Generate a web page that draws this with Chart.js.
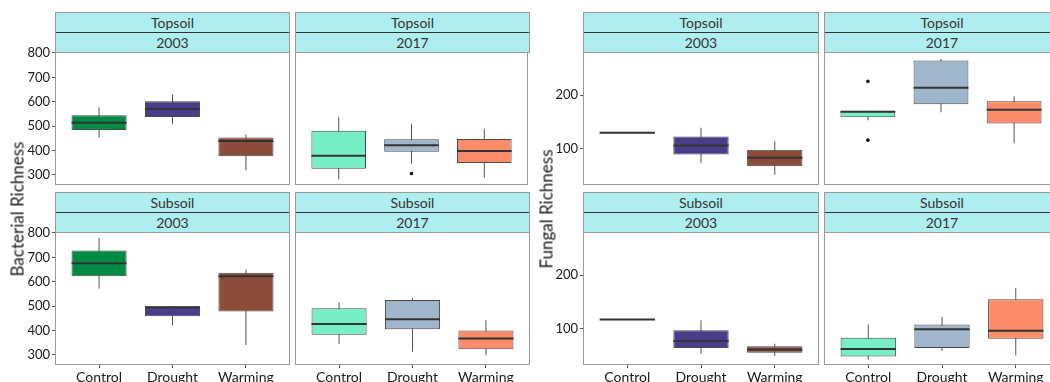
<!DOCTYPE html>
<html>
<head>
<meta charset="utf-8">
<title>Bacterial and fungal richness</title>
<script src="https://cdn.jsdelivr.net/npm/chart.js@4.4.1/dist/chart.umd.min.js"></script>
<style>
  html, body { margin: 0; padding: 0; background: #fff; overflow: hidden; }
  body { width: 1050px; height: 382px; position: relative; font-family: Lato, 'Open Sans', sans-serif; }
  #root { position: absolute; left: 0; top: 0; width: 1080px; height: 400px; }
  canvas.panel { position: absolute; }
  .strip { position: absolute; box-sizing: border-box; height: 41px; border: 1px solid #9a9a9a; background: #afeeee; }
  .strip div { height: 19px; line-height: 19px; text-align: center; font-size: 14px; color: #333; }
  .strip div:first-child { border-bottom: 1px solid #333; }
  .axis-title { position: absolute; font-size: 17px; color: #1a1a1a; white-space: nowrap;
    transform: translate(-50%, -50%) rotate(-90deg); }
</style>
</head>
<body>
<div id="root"></div>
<script>
(function () {
  // treatments on the x axis
  const categories = ['Control', 'Drought', 'Warming'];

  // y ticks for each richness measure
  const bacterialTicks = [300, 400, 500, 600, 700, 800];
  const fungalTicks = [100, 200];
  const bacterialRange = [259, 804];
  const fungalRange = [32, 281];

  // box stats per treatment: [lower whisker, q1, median, q3, upper whisker]
  const bacterialTopsoil2003 = [
    [453, 484, 514, 545, 578],
    [508, 538, 570, 602, 630],
    [319, 377, 439, 454, 466],
  ];
  const bacterialTopsoil2017 = [
    [282, 326, 379, 481, 537],
    [346, 395, 422, 446, 510],
    [289, 349, 398, 447, 489],
  ];
  const bacterialSubsoil2003 = [
    [572, 623, 676, 728, 780],
    [422, 459, 496, 500, 500],
    [341, 478, 623, 637, 650],
  ];
  const bacterialSubsoil2017 = [
    [345, 383, 427, 492, 516],
    [314, 405, 446, 525, 534],
    [300, 324, 368, 400, 442],
  ];
  const fungalTopsoil2003 = [
    [130, 130, 130, 130, 130],
    [73, 89, 106, 123, 139],
    [51, 67, 83, 98, 114],
  ];
  const fungalTopsoil2017 = [
    [153, 159, 169, 171, 171],
    [168, 183, 214, 265, 268],
    [110, 147, 173, 189, 198],
  ];
  const fungalSubsoil2003 = [
    [117, 117, 117, 117, 117],
    [53, 64, 77, 97, 116],
    [49, 55, 61, 67, 72],
  ];
  const fungalSubsoil2017 = [
    [42, 48, 62, 83, 108],
    [58, 64, 99, 108, 122],
    [50, 81, 96, 155, 176],
  ];

  // outliers per treatment
  const bacterialTopsoil2017Outliers = [[], [306], []];
  const fungalTopsoil2017Outliers = [[226, 116], [], []];
  const noOutliers = [[], [], []];

  const fills2003 = ['#008B45', '#483D8B', '#8B4C39'];
  const fills2017 = ['#76EEC6', '#9FB6CD', '#FF8C69'];

  // canvas margins around each plot area
  const ML = 40;
  const MR = 2;
  const MT = 8;
  const MB = 22;

  const cols = { bl: [55, 235], br: [295, 235], fl: [583, 236], fr: [824, 236] };
  const rows = { top: [52, 133], bottom: [232, 133] };

  const panels = [
    { col: 'bl', row: 'top', soil: 'Topsoil', year: '2003', stats: bacterialTopsoil2003, outliers: noOutliers, range: bacterialRange, ticks: bacterialTicks, fills: fills2003, yAxis: true, xAxis: false },
    { col: 'br', row: 'top', soil: 'Topsoil', year: '2017', stats: bacterialTopsoil2017, outliers: bacterialTopsoil2017Outliers, range: bacterialRange, ticks: bacterialTicks, fills: fills2017, yAxis: false, xAxis: false },
    { col: 'bl', row: 'bottom', soil: 'Subsoil', year: '2003', stats: bacterialSubsoil2003, outliers: noOutliers, range: bacterialRange, ticks: bacterialTicks, fills: fills2003, yAxis: true, xAxis: true },
    { col: 'br', row: 'bottom', soil: 'Subsoil', year: '2017', stats: bacterialSubsoil2017, outliers: noOutliers, range: bacterialRange, ticks: bacterialTicks, fills: fills2017, yAxis: false, xAxis: true },
    { col: 'fl', row: 'top', soil: 'Topsoil', year: '2003', stats: fungalTopsoil2003, outliers: noOutliers, range: fungalRange, ticks: fungalTicks, fills: fills2003, yAxis: true, xAxis: false },
    { col: 'fr', row: 'top', soil: 'Topsoil', year: '2017', stats: fungalTopsoil2017, outliers: fungalTopsoil2017Outliers, range: fungalRange, ticks: fungalTicks, fills: fills2017, yAxis: false, xAxis: false },
    { col: 'fl', row: 'bottom', soil: 'Subsoil', year: '2003', stats: fungalSubsoil2003, outliers: noOutliers, range: fungalRange, ticks: fungalTicks, fills: fills2003, yAxis: true, xAxis: true },
    { col: 'fr', row: 'bottom', soil: 'Subsoil', year: '2017', stats: fungalSubsoil2017, outliers: noOutliers, range: fungalRange, ticks: fungalTicks, fills: fills2017, yAxis: false, xAxis: true },
  ];

  const root = document.getElementById('root');

  // grey frame around the plot area
  const framePlugin = {
    id: 'panelFrame',
    afterDraw(chart) {
      const a = chart.chartArea;
      const ctx = chart.ctx;
      ctx.save();
      ctx.strokeStyle = '#9a9a9a';
      ctx.lineWidth = 1;
      ctx.strokeRect(a.left + 0.5, a.top + 0.5, a.right - a.left - 1, a.bottom - a.top - 1);
      ctx.restore();
    },
  };

  // median line across each box
  const medianPlugin = {
    id: 'boxMedians',
    afterDatasetsDraw(chart) {
      const yScale = chart.scales.y;
      const ctx = chart.ctx;
      chart.data.datasets.forEach((ds, di) => {
        if (!ds.medians) {
          return;
        }
        chart.getDatasetMeta(di).data.forEach((bar, i) => {
          const y = yScale.getPixelForValue(ds.medians[i]);
          ctx.save();
          ctx.strokeStyle = '#333';
          ctx.lineWidth = 2;
          ctx.beginPath();
          ctx.moveTo(bar.x - bar.width / 2, y);
          ctx.lineTo(bar.x + bar.width / 2, y);
          ctx.stroke();
          ctx.restore();
        });
      });
    },
  };

  function zeroPadding(scale) {
    scale.paddingTop = 0;
    scale.paddingBottom = 0;
    scale.paddingLeft = 0;
    scale.paddingRight = 0;
  }

  function addStrip(panel) {
    const [x, w] = cols[panel.col];
    const [y] = rows[panel.row];
    const strip = document.createElement('div');
    strip.className = 'strip';
    strip.style.left = `${x}px`;
    strip.style.width = `${w}px`;
    strip.style.top = `${y - 40}px`;
    strip.innerHTML = `<div>${panel.soil}</div><div>${panel.year}</div>`;
    root.appendChild(strip);
  }

  function addPanel(panel) {
    const [x, w] = cols[panel.col];
    const [y, h] = rows[panel.row];
    const canvas = document.createElement('canvas');
    canvas.className = 'panel';
    canvas.width = w + ML + MR;
    canvas.height = h + MT + MB;
    canvas.style.left = `${x - ML}px`;
    canvas.style.top = `${y - MT}px`;
    root.appendChild(canvas);

    const positions = categories.map((_, i) => i + 1);
    const outlierPoints = [];
    panel.outliers.forEach((values, i) => {
      values.forEach((v) => outlierPoints.push({ x: positions[i], y: v }));
    });

    new Chart(canvas, {
      type: 'bar',
      data: {
        datasets: [
          {
            data: panel.stats.map((s, i) => ({ x: positions[i], y: [s[0], s[4]] })),
            backgroundColor: '#555',
            borderWidth: 0,
            grouped: false,
            maxBarThickness: 1,
            order: 3,
          },
          {
            data: panel.stats.map((s, i) => ({ x: positions[i], y: [s[1], s[3]] })),
            medians: panel.stats.map((s) => s[2]),
            backgroundColor: panel.fills,
            borderColor: '#4a4a4a',
            borderWidth: 1,
            borderSkipped: false,
            grouped: false,
            barPercentage: 0.75,
            categoryPercentage: 1,
            order: 2,
          },
          {
            type: 'scatter',
            data: outlierPoints,
            pointRadius: 1.8,
            pointBackgroundColor: '#111',
            pointBorderWidth: 0,
            order: 1,
          },
        ],
      },
      options: {
        responsive: false,
        animation: false,
        devicePixelRatio: 1,
        layout: {
          padding: {
            top: MT,
            right: MR,
            left: panel.yAxis ? 0 : ML,
            bottom: panel.xAxis ? 0 : MB,
          },
        },
        plugins: { legend: { display: false }, tooltip: { enabled: false } },
        scales: {
          x: {
            type: 'linear',
            display: panel.xAxis,
            min: 0.4,
            max: 3.6,
            offset: false,
            afterBuildTicks: (scale) => {
              scale.ticks = positions.map((v) => ({ value: v }));
            },
            afterFit: (scale) => {
              if (panel.xAxis) {
                scale.height = MB;
              }
              zeroPadding(scale);
            },
            grid: { offset: false, drawOnChartArea: false, drawTicks: true, tickLength: 3, tickColor: '#555', tickWidth: 1 },
            border: { display: false },
            ticks: {
              padding: 1,
              maxRotation: 0,
              autoSkip: false,
              color: '#1a1a1a',
              font: { family: 'Lato', size: 14 },
              callback: (value) => categories[value - 1],
            },
          },
          y: {
            display: panel.yAxis,
            min: panel.range[0],
            max: panel.range[1],
            afterBuildTicks: (scale) => {
              scale.ticks = panel.ticks.map((v) => ({ value: v }));
            },
            afterFit: (scale) => {
              if (panel.yAxis) {
                scale.width = ML;
              }
              zeroPadding(scale);
            },
            grid: { drawOnChartArea: false, drawTicks: true, tickLength: 3, tickColor: '#555', tickWidth: 1 },
            border: { display: false },
            ticks: {
              padding: 2,
              color: '#1a1a1a',
              font: { family: 'Lato', size: 13 },
            },
          },
        },
      },
      plugins: [medianPlugin, framePlugin],
    });
  }

  function addAxisTitle(text, x, y) {
    const el = document.createElement('div');
    el.className = 'axis-title';
    el.textContent = text;
    el.style.left = `${x}px`;
    el.style.top = `${y}px`;
    root.appendChild(el);
  }

  panels.forEach((panel) => {
    addPanel(panel);
    addStrip(panel);
  });
  addAxisTitle('Bacterial Richness', 17, 209);
  addAxisTitle('Fungal Richness', 546, 209);
})();
</script>
</body>
</html>
